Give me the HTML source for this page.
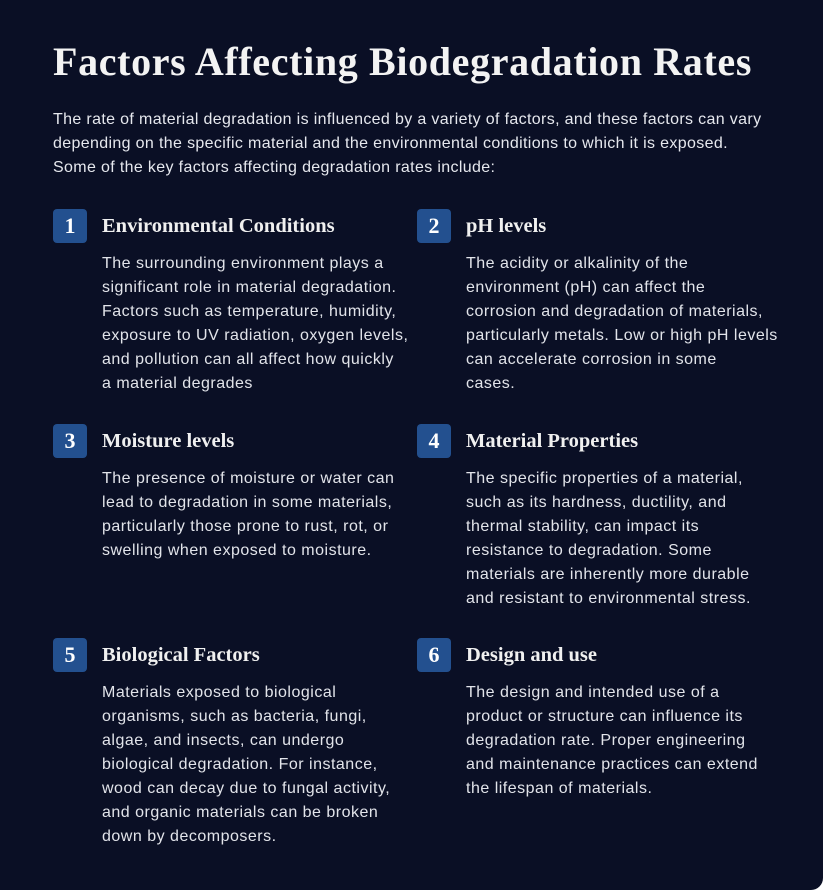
<!DOCTYPE html>
<html><head><meta charset="utf-8"><style>
html,body{margin:0;padding:0;background:#fff}
#card{position:relative;width:823px;height:890px;background:#0a0f25;border-radius:0 0 12px 0;overflow:hidden;font-family:"Liberation Sans",sans-serif;color:#e6e8ee}
h1{position:absolute;left:53px;top:38px;margin:0;font-family:"Liberation Serif",serif;font-weight:bold;font-size:40px;color:#f3f3f3;letter-spacing:0.65px;white-space:nowrap}
.intro{position:absolute;left:53px;top:108px;width:760px;font-size:16px;line-height:24px;margin:0;letter-spacing:0.35px;white-space:nowrap}
.item{position:absolute;width:360px}
.badge{position:absolute;left:0;top:0;width:34px;height:34px;background:#23508f;border-radius:4px;color:#fff;font-family:"Liberation Serif",serif;font-weight:bold;font-size:22px;text-align:center;line-height:34px}
.item h2{position:absolute;left:49px;top:6px;margin:0;font-family:"Liberation Serif",serif;font-weight:bold;font-size:20.5px;color:#f0f0f0;white-space:nowrap}
.item p{position:absolute;left:49px;top:43px;width:330px;margin:0;font-size:16px;line-height:24px;color:#e2e4ea;letter-spacing:0.5px;white-space:nowrap}
</style></head><body>
<div id="card">
<h1>Factors Affecting Biodegradation Rates</h1>
<p class="intro">The rate of material degradation is influenced by a variety of factors, and these factors can vary<br>depending on the specific material and the environmental conditions to which it is exposed.<br>Some of the key factors affecting degradation rates include:</p>

<div class="item" style="left:53px;top:209px">
<div class="badge">1</div>
<h2>Environmental Conditions</h2>
<p>The surrounding environment plays a<br>significant role in material degradation.<br>Factors such as temperature, humidity,<br>exposure to UV radiation, oxygen levels,<br>and pollution can all affect how quickly<br>a material degrades</p>
</div>
<div class="item" style="left:417px;top:209px">
<div class="badge">2</div>
<h2>pH levels</h2>
<p>The acidity or alkalinity of the<br>environment (pH) can affect the<br>corrosion and degradation of materials,<br>particularly metals. Low or high pH levels<br>can accelerate corrosion in some<br>cases.</p>
</div>
<div class="item" style="left:53px;top:424px">
<div class="badge">3</div>
<h2>Moisture levels</h2>
<p>The presence of moisture or water can<br>lead to degradation in some materials,<br>particularly those prone to rust, rot, or<br>swelling when exposed to moisture.</p>
</div>
<div class="item" style="left:417px;top:424px">
<div class="badge">4</div>
<h2>Material Properties</h2>
<p>The specific properties of a material,<br>such as its hardness, ductility, and<br>thermal stability, can impact its<br>resistance to degradation. Some<br>materials are inherently more durable<br>and resistant to environmental stress.</p>
</div>
<div class="item" style="left:53px;top:638px">
<div class="badge">5</div>
<h2>Biological Factors</h2>
<p>Materials exposed to biological<br>organisms, such as bacteria, fungi,<br>algae, and insects, can undergo<br>biological degradation. For instance,<br>wood can decay due to fungal activity,<br>and organic materials can be broken<br>down by decomposers.</p>
</div>
<div class="item" style="left:417px;top:638px">
<div class="badge">6</div>
<h2>Design and use</h2>
<p>The design and intended use of a<br>product or structure can influence its<br>degradation rate. Proper engineering<br>and maintenance practices can extend<br>the lifespan of materials.</p>
</div>
</div>
</body></html>
